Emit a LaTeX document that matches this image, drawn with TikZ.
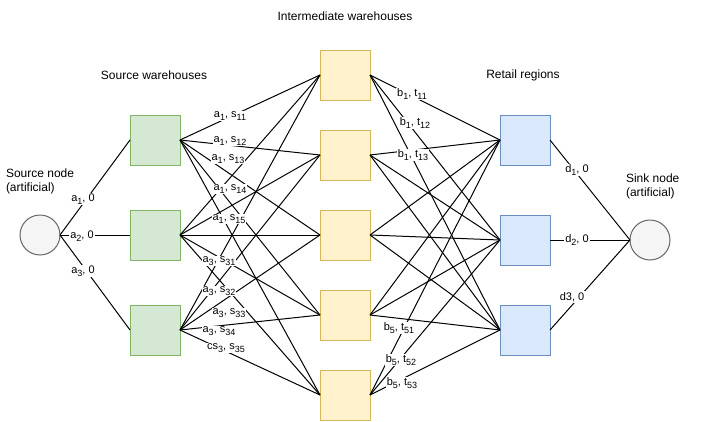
\documentclass[tikz,border=0pt]{standalone}
\usepackage{fontspec}
\setmainfont{Liberation Sans}
% lowered, slightly reduced index as used in the arc labels
\newcommand\idx[1]{\raisebox{-2.6pt}{\fontsize{9}{9}\selectfont #1}}
\begin{document}
\begin{tikzpicture}[x=1pt,y=-1pt,
  every node/.style={inner sep=0pt, outer sep=0pt},
  srcbox/.style={draw={rgb,255:red,130;green,179;blue,102}, fill={rgb,255:red,213;green,232;blue,212}, minimum width=50pt, minimum height=50pt, line width=1pt},
  midbox/.style={draw={rgb,255:red,214;green,182;blue,86}, fill={rgb,255:red,255;green,242;blue,204}, minimum width=50pt, minimum height=50pt, line width=1pt},
  retbox/.style={draw={rgb,255:red,108;green,142;blue,191}, fill={rgb,255:red,218;green,232;blue,252}, minimum width=50pt, minimum height=50pt, line width=1pt},
  endpt/.style={circle, draw={rgb,255:red,102;green,102;blue,102}, fill={rgb,255:red,245;green,245;blue,245}, minimum size=40pt, line width=1pt},
  title/.style={font=\fontsize{12}{14}\selectfont},
  lbl/.style={fill=white, inner sep=1pt, font=\fontsize{11}{12}\selectfont},
  link/.style={draw=black, line width=1pt}
]
\useasboundingbox (0,0) rectangle (701,421);

% titles
\node[title] (tsrc) at (154,75) {Source warehouses};
\node[title] (tmid) at (345,16) {Intermediate warehouses};
\node[title] (tret) at (523,75) {Retail regions};
\node[title, anchor=west, align=left] (tsn) at (6,181) {Source node\\(artificial)};
\node[title, anchor=west, align=left] (tsk) at (626,186) {Sink node\\(artificial)};

% end points
\node[endpt] (src) at (40,235) {};
\node[endpt] (snk) at (650,240) {};

% source warehouses
\node[srcbox] (s1) at (155,140) {};
\node[srcbox] (s2) at (155,235) {};
\node[srcbox] (s3) at (155,330) {};

% intermediate warehouses
\node[midbox] (m1) at (345,75) {};
\node[midbox] (m2) at (345,155) {};
\node[midbox] (m3) at (345,235) {};
\node[midbox] (m4) at (345,315) {};
\node[midbox] (m5) at (345,395) {};

% retail regions
\node[retbox] (r1) at (525,140) {};
\node[retbox] (r2) at (525,240) {};
\node[retbox] (r3) at (525,330) {};

% arcs
\foreach \s in {1,2,3} {
  \draw[link] (src.east) -- (s\s.west);
  \draw[link] (r\s.east) -- (snk.west);
  \foreach \m in {1,...,5} {
    \draw[link] (s\s.east) -- (m\m.west);
    \draw[link] (m\m.east) -- (r\s.west);
  }
}

% arc labels
\node[lbl] (la1) at (83,199) {a\idx{1}, 0};
\node[lbl] (la2) at (82,236) {a\idx{2}, 0};
\node[lbl] (la3) at (83,271) {a\idx{3}, 0};

\node[lbl] (l11) at (230,116) {a\idx{1}, s\idx{11}};
\node[lbl] (l12) at (230,141) {a\idx{1}, s\idx{12}};
\node[lbl] (l13) at (228,159) {a\idx{1}, s\idx{13}};
\node[lbl] (l14) at (230,189) {a\idx{1}, s\idx{14}};
\node[lbl] (l15) at (229,219) {a\idx{1}, s\idx{15}};

\node[lbl] (l31) at (219,261) {a\idx{3}, s\idx{31}};
\node[lbl] (l32) at (219,291) {a\idx{3}, s\idx{32}};
\node[lbl] (l33) at (229,313) {a\idx{3}, s\idx{33}};
\node[lbl] (l34) at (219,331) {a\idx{3}, s\idx{34}};
\node[lbl] (l35) at (226,348) {cs\idx{3}, s\idx{35}};

\node[lbl] (t11) at (412,94) {b\idx{1}, t\idx{11}};
\node[lbl] (t12) at (415,123) {b\idx{1}, t\idx{12}};
\node[lbl] (t13) at (413,155) {b\idx{1}, t\idx{13}};

\node[lbl] (t51) at (399,328) {b\idx{5}, t\idx{51}};
\node[lbl] (t52) at (401,360) {b\idx{5}, t\idx{52}};
\node[lbl] (t53) at (402,383) {b\idx{5}, t\idx{53}};

\node[lbl] (ld1) at (577,170) {d\idx{1}, 0};
\node[lbl] (ld2) at (577,240) {d\idx{2}, 0};
\node[lbl] (ld3) at (572,297) {d3, 0};
\end{tikzpicture}
\end{document}
